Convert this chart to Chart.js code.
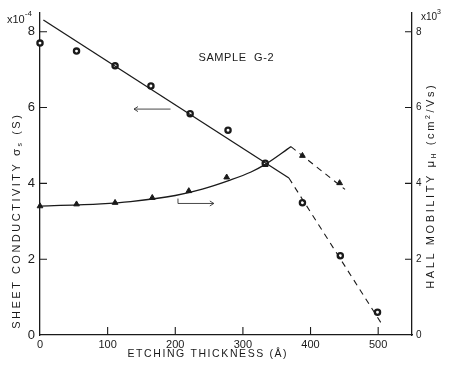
<!DOCTYPE html>
<html><head><meta charset="utf-8">
<script src="https://cdn.jsdelivr.net/npm/chart.js@4.4.0/dist/chart.umd.min.js"></script>
<style>html,body{margin:0;padding:0;background:#fff}canvas{display:block}</style>
</head><body>
<canvas id="c" width="451" height="370"></canvas>
<script>
// ---- data ----
const condThickness = [0, 54, 111, 164, 222, 278, 333, 388, 444, 499];
const condValues    = [7.70, 7.49, 7.10, 6.57, 5.84, 5.40, 4.53, 3.49, 2.09, 0.60];
const mobThickness  = [0, 54, 111, 166, 220, 276, 333, 388, 443];
const mobValues     = [3.40, 3.45, 3.49, 3.62, 3.80, 4.16, 4.49, 4.73, 4.01];
const condFitX  = [5, 368];
const condFitY  = [8.31, 4.14];
const condDashX = [368, 506];
const condDashY = [4.14, 0.27];
const mobCurveX = [0, 90, 134, 200, 240, 280, 312, 333, 371];
const mobCurveY = [3.40, 3.46, 3.52, 3.68, 3.85, 4.08, 4.30, 4.50, 4.97];
const mobDashX  = [371, 451];
const mobDashY  = [4.97, 3.84];
const xTickValues  = [0, 100, 200, 300, 400, 500];
const yTickValues  = [0, 2, 4, 6, 8];
const y2TickValues = [0, 2, 4, 6, 8];
// annotation arrows (data space)
const leftArrowX = [193, 139], leftArrowY = [5.96, 5.96];
const rightArrowX = [204, 204, 257], rightArrowY = [3.60, 3.47, 3.47];

const FONT = '"Liberation Sans", Arial, sans-serif';
const INK = '#1a1a1a';
const pts = (xs, ys) => xs.map((x, i) => ({x, y: ys[i]}));

function drawRich(ctx, segs, cx, cy, rot, spacing) {
  ctx.save();
  ctx.translate(cx, cy);
  ctx.rotate(rot);
  ctx.fillStyle = INK;
  ctx.textBaseline = 'alphabetic';
  ctx.textAlign = 'left';
  let total = 0;
  const items = [];
  for (const s of segs) {
    ctx.font = `${s.size}px ${FONT}`;
    for (const ch of s.t) {
      const w = ctx.measureText(ch).width;
      items.push({ch, size: s.size, dy: s.dy || 0, w});
      total += w + spacing;
    }
  }
  total -= spacing;
  let x = -total / 2;
  const baseSize = segs[0].size;
  for (const it of items) {
    ctx.font = `${it.size}px ${FONT}`;
    ctx.fillText(it.ch, x, baseSize * 0.36 + it.dy);
    x += it.w + spacing;
  }
  ctx.restore();
}

const decor = {
  id: 'decor',
  afterDraw(chart) {
    const {ctx, scales: {x, y, y2}} = chart;
    ctx.save();
    ctx.strokeStyle = INK;
    ctx.lineWidth = 1.1;
    // inner tick marks
    ctx.beginPath();
    for (const v of yTickValues) { if (!v) continue; const p = y.getPixelForValue(v); ctx.moveTo(x.left, p); ctx.lineTo(x.left + 7, p); }
    for (const v of y2TickValues) { if (!v) continue; const p = y2.getPixelForValue(v); ctx.moveTo(x.right, p); ctx.lineTo(x.right - 7, p); }
    for (const v of xTickValues) { if (!v) continue; const p = x.getPixelForValue(v); ctx.moveTo(p, y.bottom); ctx.lineTo(p, y.bottom - 8); }
    ctx.stroke();

    // arrows
    ctx.lineWidth = 0.9;
    ctx.strokeStyle = '#333';
    const la = leftArrowX.map((v, i) => [x.getPixelForValue(v), y.getPixelForValue(leftArrowY[i])]);
    ctx.beginPath();
    ctx.moveTo(la[0][0], la[0][1]); ctx.lineTo(la[1][0], la[1][1]);
    ctx.moveTo(la[1][0] + 4, la[1][1] - 2.5); ctx.lineTo(la[1][0], la[1][1]); ctx.lineTo(la[1][0] + 4, la[1][1] + 2.5);
    ctx.stroke();
    const ra = rightArrowX.map((v, i) => [x.getPixelForValue(v), y2.getPixelForValue(rightArrowY[i])]);
    ctx.beginPath();
    ctx.moveTo(ra[0][0], ra[0][1]); ctx.lineTo(ra[1][0], ra[1][1]); ctx.lineTo(ra[2][0], ra[2][1]);
    ctx.moveTo(ra[2][0] - 4, ra[2][1] - 2.5); ctx.lineTo(ra[2][0], ra[2][1]); ctx.lineTo(ra[2][0] - 4, ra[2][1] + 2.5);
    ctx.stroke();

    // texts
    drawRich(ctx, [{t: 'SAMPLE  G-2', size: 11}], 236, 57, 0, 0.6);
    drawRich(ctx, [{t: 'ETCHING THICKNESS (Å)', size: 10.5}], 207, 353, 0, 1.6);
    drawRich(ctx, [{t: 'SHEET CONDUCTIVITY ', size: 11}, {t: 'σ', size: 11.5}, {t: 's', size: 7, dy: 2}, {t: ' (S)', size: 11}], 16, 222, -Math.PI / 2, 2.5);
    drawRich(ctx, [{t: 'HALL MOBILITY ', size: 11}, {t: 'μ', size: 11.5}, {t: 'H', size: 6.5, dy: 2}, {t: ' (cm', size: 11}, {t: '2', size: 7, dy: -4}, {t: '/Vs)', size: 11}], 430, 187, -Math.PI / 2, 2.6);
    // exponent markers
    ctx.fillStyle = INK; ctx.textAlign = 'left'; ctx.textBaseline = 'alphabetic';
    ctx.font = `11px ${FONT}`;
    ctx.fillText('x10', 7, 23);
    let w = ctx.measureText('x10').width;
    ctx.font = `8px ${FONT}`;
    ctx.fillText('-4', 7 + w, 16);
    ctx.font = `10px ${FONT}`;
    ctx.fillText('x10', 421, 20);
    w = ctx.measureText('x10').width;
    ctx.font = `7px ${FONT}`;
    ctx.fillText('3', 421 + w, 14);
    ctx.restore();
  }
};

const lineDs = (data, axis, extra) => Object.assign({
  data, yAxisID: axis, showLine: true, pointRadius: 0, borderColor: INK, borderWidth: 1.3,
  fill: false, clip: false
}, extra || {});

new Chart(document.getElementById('c').getContext('2d'), {
  type: 'scatter',
  data: {
    datasets: [
      lineDs(pts(condFitX, condFitY), 'y'),
      lineDs(pts(condDashX, condDashY), 'y', {borderDash: [6, 5], borderWidth: 1.1}),
      lineDs(pts(mobCurveX, mobCurveY), 'y2', {cubicInterpolationMode: 'monotone'}),
      lineDs(pts(mobDashX, mobDashY), 'y2', {borderDash: [6, 5], borderWidth: 1.1}),
      {data: pts(condThickness, condValues), yAxisID: 'y', showLine: false, pointStyle: 'circle',
       pointRadius: 2.6, borderWidth: 2.3, borderColor: INK, backgroundColor: '#fff', clip: false},
      {data: pts(mobThickness, mobValues), yAxisID: 'y2', showLine: false, pointStyle: 'triangle',
       pointRadius: 3.3, borderWidth: 1, borderColor: INK, backgroundColor: INK, clip: false}
    ]
  },
  options: {
    responsive: false, animation: false, devicePixelRatio: 1,
    layout: {padding: {top: 12, left: 0, right: 0, bottom: 0}},
    plugins: {legend: {display: false}, tooltip: {enabled: false}},
    scales: {
      x: {
        type: 'linear', min: 0, max: 550,
        afterBuildTicks: s => { s.ticks = xTickValues.map(v => ({value: v})); },
        afterFit: s => { s.height = 35; },
        grid: {display: false, drawTicks: false},
        border: {display: true, color: INK, width: 1.3},
        ticks: {padding: 3, color: INK, font: {family: FONT, size: 11}, maxRotation: 0}
      },
      y: {
        position: 'left', min: 0, max: 8.5,
        afterBuildTicks: s => { s.ticks = yTickValues.map(v => ({value: v})); },
        afterFit: s => { s.width = 40; },
        grid: {display: false, drawTicks: false},
        border: {display: true, color: INK, width: 1.3},
        ticks: {padding: 5, color: INK, font: {family: FONT, size: 13}}
      },
      y2: {
        position: 'right', min: 0, max: 8.5,
        afterBuildTicks: s => { s.ticks = y2TickValues.map(v => ({value: v})); },
        afterFit: s => { s.width = 39; },
        grid: {display: false, drawTicks: false},
        border: {display: true, color: INK, width: 1.3},
        ticks: {padding: 4, color: INK, font: {family: FONT, size: 10}}
      }
    }
  },
  plugins: [decor]
});
</script>
</body></html>
